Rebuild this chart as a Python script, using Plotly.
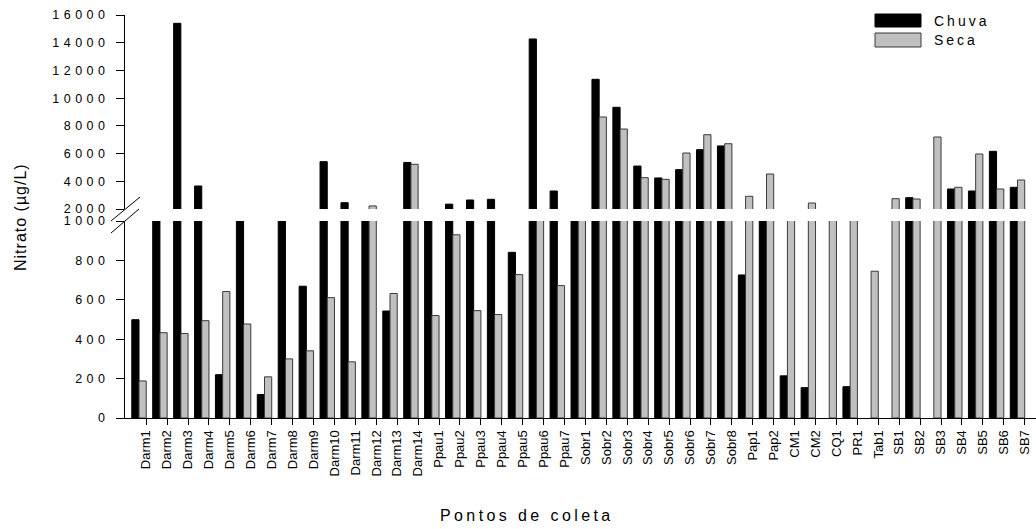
import plotly.graph_objects as go

categories = (["Darm%d" % i for i in range(1, 15)] + ["Ppau%d" % i for i in range(1, 8)]
              + ["Sobr%d" % i for i in range(1, 9)] + ["Pap1", "Pap2", "CM1", "CM2", "CQ1", "PR1", "Tab1"]
              + ["SB%d" % i for i in range(1, 8)])

chuva = [499, 1500, 15400, 3660, 220, 1500, 119, 1500, 669, 5415, 2455, 1500, 543, 5360,
         1500, 2350, 2650, 2700, 841, 14270, 3300,
         1500, 11360, 9340, 5100, 4240, 4840, 6280, 6550,
         726, 1500, 214, 154, None, 159, None,
         None, 2816, None, 3443, 3300, 6164, 3566]

seca = [188, 433, 429, 494, 642, 477, 209, 300, 341, 611, 285, 2220, 632, 5225,
        520, 930, 545, 525, 728, 1500, 672,
        1500, 8640, 7770, 4260, 4140, 6040, 7360, 6710,
        2916, 4526, 1500, 2433, 1500, 1500, 745,
        2743, 2722, 7196, 3566, 5969, 3443, 4093]

lower_ticks = [0, 200, 400, 600, 800, 1000]
upper_ticks = [2000, 4000, 6000, 8000, 10000, 12000, 14000, 16000]
series_names = ["Chuva", "Seca"]

FONT = "Liberation Sans, Arial, sans-serif"
W, H = 1036, 529
L, R, T, B = 125, 0, 15, 111
PW, PH = W - L - R, H - T - B


def px(x):
    return (x - L) / PW


def py(y):
    return (T + PH - y) / PH


def spaced(s, sp=3.5):
    return '<span style="letter-spacing:%spx">%s</span>' % (sp, s)


xs = list(range(len(categories)))
colors = {"Chuva": ("black", "black"), "Seca": ("#c0c0c0", "#3a3a3a")}

fig = go.Figure()
for yax in ["y", "y2"]:
    for name, vals in zip(series_names, [chuva, seca]):
        fc, lc = colors[name]
        fig.add_trace(go.Bar(x=xs, y=vals, name=name, xaxis="x", yaxis=yax,
                             marker=dict(color=fc, line=dict(color=lc, width=1)),
                             showlegend=False, hoverinfo="skip"))

low_dom = [0, py(221)]
up_dom = [py(209), 1]

yfont = dict(size=12.5, family=FONT)
fig.update_layout(
    width=W, height=H, margin=dict(l=L, r=R, t=T, b=B, autoexpand=False),
    paper_bgcolor="white", plot_bgcolor="white",
    barmode="group", bargap=0.31, bargroupgap=0,
    font=dict(family=FONT, size=13, color="black"),
    xaxis=dict(range=[-0.67, 42.885], tickvals=[i + 0.345 for i in xs], ticktext=categories,
               tickangle=-90, ticks="outside", ticklen=6, tickcolor="black",
               showline=True, linecolor="black", linewidth=1, showgrid=False, zeroline=False,
               anchor="y", tickfont=dict(size=13, family=FONT), automargin=False),
    yaxis=dict(domain=low_dom, range=[0, 1000], tickvals=lower_ticks,
               ticktext=[spaced(str(v), 4.5) for v in lower_ticks],
               ticks="outside", ticklen=8, tickcolor="black", showline=True, linecolor="black",
               linewidth=1, showgrid=False, zeroline=False, anchor="x", ticklabelstandoff=4,
               tickfont=yfont, automargin=False),
    yaxis2=dict(domain=up_dom, range=[2000, 16000], tickvals=upper_ticks,
                ticktext=[spaced(str(v), 4.5) for v in upper_ticks],
                ticks="outside", ticklen=8, tickcolor="black", showline=True, linecolor="black",
                linewidth=1, showgrid=False, zeroline=False, anchor="x", ticklabelstandoff=4,
                tickfont=yfont, automargin=False),
)

shapes = []
# axis break marks
shapes.append(dict(type="line", xref="paper", yref="paper", x0=px(111), y0=py(221), x1=px(140), y1=py(197),
                   line=dict(color="black", width=1)))
shapes.append(dict(type="line", xref="paper", yref="paper", x0=px(111), y0=py(233), x1=px(139), y1=py(209),
                   line=dict(color="black", width=1)))
# legend swatches
shapes.append(dict(type="rect", xref="paper", yref="paper", x0=px(875), x1=px(921), y0=py(27), y1=py(14),
                   fillcolor="black", line=dict(color="black", width=1)))
shapes.append(dict(type="rect", xref="paper", yref="paper", x0=px(875), x1=px(921), y0=py(47), y1=py(33),
                   fillcolor="#c0c0c0", line=dict(color="#3a3a3a", width=1)))
fig.update_layout(shapes=shapes)

annotations = [
    dict(text=spaced(series_names[0], 3), x=px(932), y=py(21), xref="paper", yref="paper",
         xanchor="left", yanchor="middle", showarrow=False, font=dict(size=14, family=FONT)),
    dict(text=spaced(series_names[1], 3), x=px(932), y=py(40), xref="paper", yref="paper",
         xanchor="left", yanchor="middle", showarrow=False, font=dict(size=14, family=FONT)),
    dict(text=spaced("Nitrato (µg/L)", 1), x=px(20), y=py(217), xref="paper", yref="paper", textangle=-90,
         xanchor="center", yanchor="middle", showarrow=False, font=dict(size=16, family=FONT)),
    dict(text=spaced("Pontos de coleta", 3.4), x=px(527), y=py(515), xref="paper", yref="paper",
         xanchor="center", yanchor="middle", showarrow=False, font=dict(size=16, family=FONT)),
]
fig.update_layout(annotations=annotations)

fig.write_html("out.html")
